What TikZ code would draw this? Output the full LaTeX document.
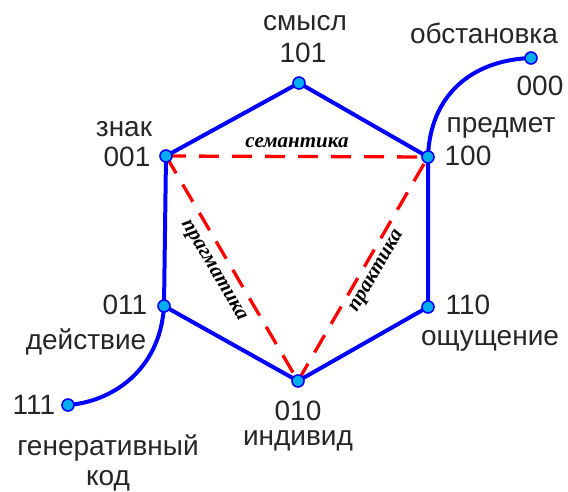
\documentclass[tikz,border=0pt]{standalone}
\usepackage{fontspec}
\setmainfont{Liberation Sans}
\newfontfamily\itserif{Liberation Serif}
\pgfdeclarelayer{bg}
\pgfsetlayers{bg,main}
\tikzset{
 vtx/.style={circle, draw=blue, fill=cyan, line width=1.6pt, inner sep=0pt, minimum size=12pt},
 hexedge/.style={draw=blue, line width=4pt, line join=round, line cap=round},
 rel/.style={draw=red, line width=3.3pt, dash pattern=on 20pt off 13pt},
 lbl/.style={font=\fontsize{28}{30}\selectfont, inner sep=0pt, text=black!85},
 rellbl/.style={font=\itserif\bfseries\itshape\fontsize{21}{23}\selectfont, inner sep=0pt}
}
\begin{document}
\begin{tikzpicture}[x=1pt,y=-1pt]
\useasboundingbox (0,0) rectangle (568,492);
% vertices
\node[vtx] (p101) at (299,83) {};
\node[vtx] (p100) at (428,157) {};
\node[vtx] (p110) at (428,307) {};
\node[vtx] (p010) at (298,381) {};
\node[vtx] (p011) at (164,306) {};
\node[vtx] (p001) at (166,156) {};
\node[vtx] (p000) at (531,58) {};
\node[vtx] (p111) at (68,405) {};
% labels
\node[lbl] (tsm) at (305,23) {смысл};
\node[lbl] (t101) at (303,53) {101};
\node[lbl] (tzn) at (124,129) {знак};
\node[lbl] (t001) at (127,157) {001};
\node[lbl] (tpr) at (501,128) {предмет};
\node[lbl] (t100) at (468,156) {100};
\node[lbl] (t110) at (468,305) {110};
\node[lbl] (toshch) at (490,341) {ощущение};
\node[lbl] (t010) at (298,411) {010};
\node[lbl] (tind) at (298,441) {индивид};
\node[lbl] (t011) at (125,305) {011};
\node[lbl] (tdey) at (86,342) {действие};
\node[lbl] (t111) at (34,405) {111};
\node[lbl] (tgen) at (108,448) {генеративный};
\node[lbl] (tkod) at (108,481) {код};
\node[lbl] (tobs) at (484,33) {обстановка};
\node[lbl] (t000) at (540,86) {000};
\begin{pgfonlayer}{bg}
% red triangle
\draw[rel] (p001.center) -- node[pos=0.5, above=7pt, rellbl]{семантика} (p100.center);
\draw[rel] (p001.center) -- node[pos=0.47, sloped, below=9pt, rellbl]{прагматика} (p010.center);
\draw[rel] (p010.center) -- node[pos=0.52, sloped, below=5pt, rellbl]{практика} (p100.center);
% blue hexagon
\draw[hexedge] (p101.center) -- (p100.center) -- (p110.center) -- (p010.center) -- (p011.center) -- (p001.center) -- cycle;
% curves
\draw[hexedge] (p100.center) .. controls (430,95) and (472,60) .. (p000.center);
\draw[hexedge] (p011.center) .. controls (160,372) and (110,402) .. (p111.center);
\end{pgfonlayer}
\end{tikzpicture}
\end{document}
